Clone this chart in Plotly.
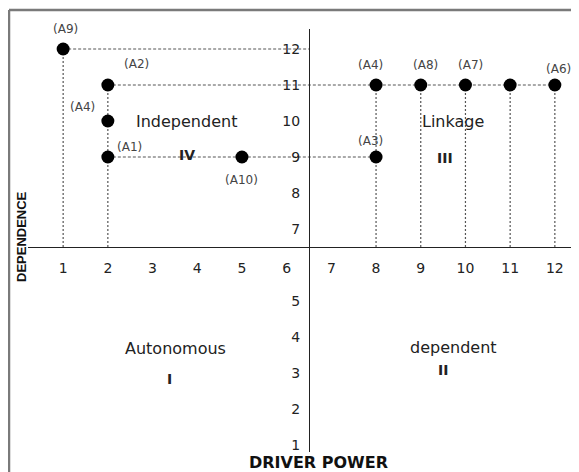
import plotly.graph_objects as go

# ---- data ----
labels = ["(A9)", "(A2)", "(A4)", "(A1)", "(A10)", "(A4)", "(A8)", "(A7)", "", "(A6)", "(A3)"]
driver = [1, 2, 2, 2, 5, 8, 9, 10, 11, 12, 8]
dependence = [12, 11, 10, 9, 9, 11, 11, 11, 11, 11, 9]
tick_values = [1, 2, 3, 4, 5, 6, 7, 8, 9, 10, 11, 12]
guide_rows = [12, 11, 9]               # dependence rows with dashed guides
guide_cols = [1, 2, 8, 9, 10, 11, 12]  # driver columns with dotted guides
quad_names = ["Independent", "IV", "Linkage", "III", "Autonomous", "I", "dependent", "II"]

mid = (min(tick_values) + max(tick_values)) / 2.0

# ---- layout geometry (page has an 8px body margin) ----
OFF = 8
WIN_W, WIN_H = 579, 472
W, H = WIN_W - OFF, WIN_H - OFF
plot_left, plot_right, plot_top, plot_bottom = 28, 575, 29, 452  # window pixels
ml, mr = plot_left - OFF, WIN_W - plot_right
mt, mb = plot_top - OFF, WIN_H - plot_bottom
pw, ph = W - ml - mr, H - mt - mb
x_axis_px, x_scale = 309, 44.7
y_axis_px, y_scale = 247, 36.0
x_lo = mid - (x_axis_px - plot_left) / x_scale
x_hi = x_lo + pw / x_scale
y_hi = mid + (y_axis_px - plot_top) / y_scale
y_lo = y_hi - ph / y_scale


def px_x(px):
    return (px - plot_left) / pw


def px_y(py):
    return (plot_bottom - py) / ph


# label offsets in pixels (dx right, dy down)
label_offsets = [(2, -20), (29, -21), (-25, -14), (22, -10), (0, 23), (-6, -20),
                 (5, -20), (5, -20), (0, 0), (4, -16), (-6, -16)]
quad_pos = [(3.75, 9.98), (3.77, 9.06), (9.72, 9.98), (9.54, 8.98),
            (3.52, 3.67), (3.37, 2.83), (9.74, 3.72), (9.5, 3.08)]
quad_bold = [False, True, False, True, False, True, False, True]

fig = go.Figure()

# horizontal dashed guides
hx, hy = [], []
for r in guide_rows:
    xs = [x for x, y in zip(driver, dependence) if y == r]
    hx += [min(xs), max(max(xs), mid), None]
    hy += [r, r, None]
fig.add_trace(go.Scatter(x=hx, y=hy, mode="lines", hoverinfo="skip",
                         line=dict(color="#555555", width=1, dash="3px,2px"),
                         showlegend=False))

# vertical dotted guides
vx, vy = [], []
for c in guide_cols:
    ys = [y for x, y in zip(driver, dependence) if x == c]
    vx += [c, c, None]
    vy += [max(ys), mid, None]
fig.add_trace(go.Scatter(x=vx, y=vy, mode="lines", hoverinfo="skip",
                         line=dict(color="#555555", width=1.2, dash="2px,2px"),
                         showlegend=False))

# points
fig.add_trace(go.Scatter(x=driver, y=dependence, mode="markers",
                         marker=dict(color="black", size=13),
                         showlegend=False))

annotations = []
for name, x, y, (dx, dy) in zip(labels, driver, dependence, label_offsets):
    if not name:
        continue
    annotations.append(dict(x=x, y=y, xref="x", yref="y", text=name, showarrow=False,
                            xshift=dx, yshift=-dy, xanchor="center", yanchor="middle",
                            font=dict(family="DejaVu Sans", size=12, color="#444444")))

for name, (x, y), b in zip(quad_names, quad_pos, quad_bold):
    annotations.append(dict(x=x, y=y, xref="x", yref="y", text=f"<b>{name}</b>" if b else name,
                            showarrow=False, xanchor="center", yanchor="middle",
                            font=dict(family="DejaVu Sans", size=14 if b else 16, color="#222222")))

annotations.append(dict(x=px_x(21), y=px_y(237), xref="paper", yref="paper",
                        text="<b>DEPENDENCE</b>", textangle=-90, showarrow=False,
                        xanchor="center", yanchor="middle",
                        font=dict(family="Liberation Sans", size=13, color="#111111")))
annotations.append(dict(x=px_x(318), y=px_y(463), xref="paper", yref="paper",
                        text="<b>DRIVER POWER</b>", showarrow=False,
                        xanchor="center", yanchor="middle",
                        font=dict(family="DejaVu Sans", size=16, color="#111111")))

shapes = [
    dict(type="line", xref="paper", yref="paper", x0=px_x(9), x1=px_x(WIN_W + 5),
         y0=px_y(10), y1=px_y(10), line=dict(color="#7a7a7a", width=2.5)),
    dict(type="line", xref="paper", yref="paper", x0=px_x(9), x1=px_x(9),
         y0=px_y(10), y1=px_y(WIN_H + 5), line=dict(color="#7a7a7a", width=2.5)),
]

fig.update_layout(
    width=W, height=H,
    margin=dict(l=ml, r=mr, t=mt, b=mb, pad=0),
    paper_bgcolor="white", plot_bgcolor="white",
    xaxis=dict(range=[x_lo, x_hi], domain=[0, 1], anchor="free",
               position=(mid - y_lo) / (y_hi - y_lo),
               tickvals=tick_values, ticks="", ticklabelstandoff=8,
               showgrid=False, zeroline=False, showline=True, linecolor="#222222", linewidth=1,
               tickfont=dict(family="DejaVu Sans", size=14, color="#222222")),
    yaxis=dict(range=[y_lo, y_hi], domain=[0, 1], anchor="free",
               position=(mid - x_lo) / (x_hi - x_lo),
               tickvals=[v for v in tick_values if v != 6], ticks="", ticklabelstandoff=6,
               showgrid=False, zeroline=False, showline=True, linecolor="#222222", linewidth=1,
               tickfont=dict(family="DejaVu Sans", size=14, color="#222222")),
    annotations=annotations,
    shapes=shapes,
)

fig.write_html("out.html")
